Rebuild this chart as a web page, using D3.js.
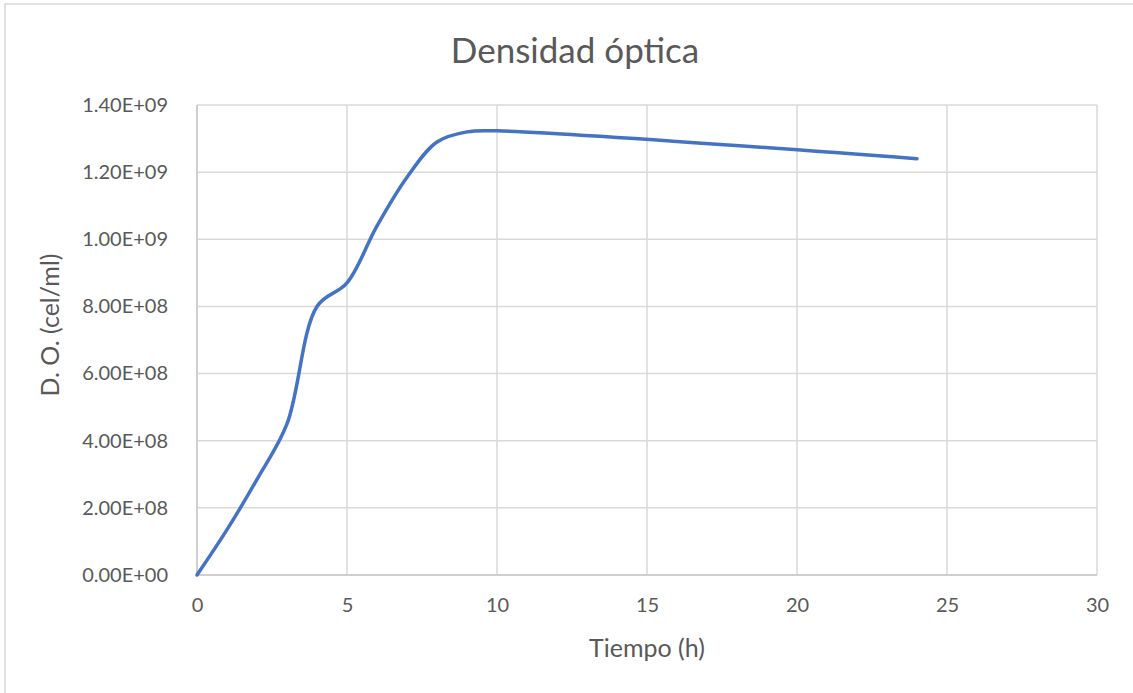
<!DOCTYPE html>
<html><head><meta charset="utf-8">
<script src="https://cdn.jsdelivr.net/npm/d3@7"></script>
<style>body{margin:0;background:#fff}svg{display:block}</style>
</head><body>
<script>
const hours = [0, 1, 2, 3, 4, 5, 6, 7, 8, 9, 10, 24];
const density = [0, 1.35e8, 2.85e8, 4.5e8, 8.0e8, 8.7e8, 1.04e9, 1.185e9, 1.29e9, 1.32e9, 1.323e9, 1.24e9];
const xTicks = [0, 5, 10, 15, 20, 25, 30];
const yTicks = [0, 2e8, 4e8, 6e8, 8e8, 1e9, 1.2e9, 1.4e9];
const title = "Densidad óptica";
const xLabel = "Tiempo (h)";
const yLabel = "D. O. (cel/ml)";

const W = 1133, H = 693;
const m = {left: 197, right: 1097, top: 105, bottom: 575};
const font = "Lato, 'Open Sans', sans-serif";
const svg = d3.select("body").append("svg").attr("width", W).attr("height", H);

svg.append("rect").attr("x", 5).attr("y", 4).attr("width", W + 10).attr("height", H + 10)
  .attr("fill", "#fff").attr("stroke", "#d9d9d9").attr("stroke-width", 1.5);

const x = d3.scaleLinear().domain([0, 30]).range([m.left, m.right]);
const y = d3.scaleLinear().domain([0, 1.4e9]).range([m.bottom, m.top]);

// gridlines
svg.append("g").selectAll("line").data(yTicks).join("line")
  .attr("x1", m.left).attr("x2", m.right).attr("y1", d => y(d)).attr("y2", d => y(d))
  .attr("stroke", "#d9d9d9").attr("stroke-width", 1.5);
svg.append("g").selectAll("line").data(xTicks).join("line")
  .attr("y1", m.top).attr("y2", m.bottom).attr("x1", d => x(d)).attr("x2", d => x(d))
  .attr("stroke", "#d9d9d9").attr("stroke-width", 1.5);
// axes lines
svg.append("line").attr("x1", m.left).attr("x2", m.right).attr("y1", y(0)).attr("y2", y(0))
  .attr("stroke", "#c8c8c8").attr("stroke-width", 1.5);
svg.append("line").attr("x1", x(0)).attr("x2", x(0)).attr("y1", m.top).attr("y2", m.bottom)
  .attr("stroke", "#c8c8c8").attr("stroke-width", 1.5);

// tick labels via axes
const fmt = d => d.toExponential(2).toUpperCase().replace(/E([+-])(\d)$/, "E$10$2");
const xAxis = svg.append("g").attr("transform", `translate(0,${y(0)})`)
  .call(d3.axisBottom(x).tickValues(xTicks).tickSize(0).tickPadding(23).tickFormat(d3.format("d")));
const yAxis = svg.append("g").attr("transform", `translate(${x(0)},0)`)
  .call(d3.axisLeft(y).tickValues(yTicks).tickSize(0).tickPadding(29).tickFormat(fmt));
[xAxis, yAxis].forEach(a => {
  a.select(".domain").remove();
  a.selectAll("text").attr("font-family", font).attr("font-size", 20).attr("fill", "#595959");
});

// line
const line = d3.line().x((d, i) => x(hours[i])).y(d => y(d)).curve(d3.curveCatmullRom.alpha(0.5));
svg.append("path").attr("d", line(density)).attr("fill", "none")
  .attr("stroke", "#4472c4").attr("stroke-width", 3.5).attr("stroke-linecap", "round").attr("stroke-linejoin", "round");

svg.append("text").attr("x", 575).attr("y", 63).attr("text-anchor", "middle")
  .attr("font-family", font).attr("font-size", 35).attr("fill", "#595959").text(title);
svg.append("text").attr("x", 647).attr("y", 657).attr("text-anchor", "middle")
  .attr("font-family", font).attr("font-size", 25).attr("fill", "#595959").text(xLabel);
svg.append("text").attr("transform", "translate(59,325) rotate(-90)").attr("text-anchor", "middle")
  .attr("font-family", font).attr("font-size", 25).attr("fill", "#595959").text(yLabel);
</script>
</body></html>
